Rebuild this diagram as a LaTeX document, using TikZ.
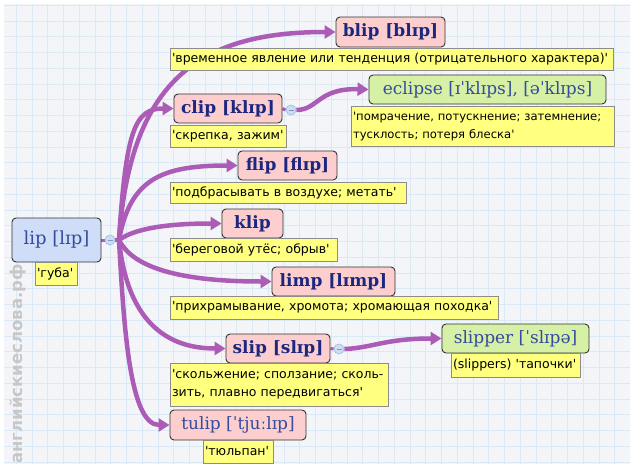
\documentclass[tikz,border=0pt]{standalone}
\usepackage{fontspec}
\setmainfont{DejaVu Sans}[Ligatures=TeXOff]
\newfontfamily\hw{DejaVu Serif}[Ligatures=TeXOff]
\usetikzlibrary{arrows.meta}
\definecolor{bgc}{RGB}{243,245,248}
\definecolor{gridc}{RGB}{218,233,243}
\definecolor{pur}{RGB}{172,92,182}
\definecolor{pinkf}{RGB}{252,206,206}
\definecolor{bluef}{RGB}{208,221,248}
\definecolor{greenf}{RGB}{214,240,166}
\definecolor{yel}{RGB}{255,255,128}
\definecolor{navy}{RGB}{28,40,128}
\definecolor{lnavy}{RGB}{52,76,156}
\definecolor{circf}{RGB}{205,222,244}
\definecolor{circd}{RGB}{160,190,228}
\pgfdeclarelayer{back}\pgfdeclarelayer{mid}\pgfsetlayers{back,mid,main}
\tikzset{
  wordbox/.style={draw=black!80, rounded corners=4pt, line width=0.9pt, inner sep=0pt, text=navy,
    font=\hw\bfseries\fontsize{17}{20}\selectfont},
  pinkbox/.style={wordbox, fill=pinkf},
  greenbox/.style={wordbox, fill=greenf, text=lnavy, font=\hw\fontsize{17}{20}\selectfont},
  plainbox/.style={wordbox, fill=pinkf, text=lnavy, font=\hw\fontsize{17}{20}\selectfont},
  rootbox/.style={wordbox, fill=bluef, text=lnavy, font=\hw\fontsize{18}{20}\selectfont},
  trans/.style={draw=black!45, fill=yel, line width=0.8pt, inner ysep=0pt, inner xsep=2pt, text=black,
    align=left, font=\fontsize{12.5}{18}\selectfont},
  arr/.style={draw=pur, line width=4.5pt, -{Triangle[length=11pt,width=13pt]}},
  stub/.style={draw=pur, line width=3pt},
  knob/.style={circle, draw=circd, fill=circf, line width=0.7pt, minimum size=10pt, inner sep=0pt,
    path picture={\draw[circd!80!black, line width=0.8pt] ([xshift=-2.5pt]path picture bounding box.center) -- ([xshift=2.5pt]path picture bounding box.center);}},
}
\begin{document}
\begin{tikzpicture}[x=1pt,y=-1pt]
\useasboundingbox (0,0) rectangle (635,469);
\begin{pgfonlayer}{back}
  \fill[white] (0,0) rectangle (635,469);
  \fill[bgc] (4,4) rectangle (630,464);
  \begin{scope}
    \clip (4,4) rectangle (630,464);
    \foreach \i in {0,...,40} {
      \draw[gridc, line width=1pt] (0.7+\i*15.75,4) -- (0.7+\i*15.75,464);
    }
    \foreach \j in {0,...,30} {
      \draw[gridc, line width=1pt] (4,5.3+\j*15.75) -- (630,5.3+\j*15.75);
    }
  \end{scope}
  \node[rotate=90, text=black!22, font=\bfseries\fontsize{16.5}{16.5}\selectfont] (wm) at (18,364) {английскиеслова.рф};
\end{pgfonlayer}

% head words
\node[rootbox, minimum width=89pt, minimum height=44pt] (lip) at (56.5,240) {lip [lɪp]};
\node[trans, text width=38pt, minimum height=23pt] (lipt) at (56,273.5) {'губа'};

\node[pinkbox, minimum width=109pt, minimum height=30pt] (blip) at (390.5,32) {blip [blɪp]};
\node[trans, text width=439pt, minimum height=22pt] (blipt) at (391.5,59) {'временное явление или тенденция (отрицательного характера)'};

\node[pinkbox, minimum width=108pt, minimum height=29pt] (clip) at (228,108.5) {clip [klɪp]};
\node[trans, text width=112pt, minimum height=22pt] (clipt) at (228,136) {'скрепка, зажим'};
\node[knob] (clipc) at (291,110) {};

\node[greenbox, minimum width=237pt, minimum height=29pt] (eclipse) at (487.5,89.5) {eclipse [ɪˈklɪps], [əˈklɪps]};
\node[trans, text width=259pt, minimum height=40pt, font=\fontsize{11.6}{18}\selectfont] (eclipset) at (482.5,126) {'помрачение, потускнение; затемнение;\\тусклость; потеря блеска'};

\node[pinkbox, minimum width=99pt, minimum height=29pt] (flip) at (287.5,165.5) {flip [flɪp]};
\node[trans, text width=232pt, minimum height=21pt] (flipt) at (288,192.5) {'подбрасывать в воздухе; метать'};

\node[pinkbox, minimum width=61pt, minimum height=29pt] (klip) at (252.5,223.5) {klip};
\node[trans, text width=163pt, minimum height=23pt] (klipt) at (253.5,250) {'береговой утёс; обрыв'};

\node[pinkbox, minimum width=123pt, minimum height=29pt] (limp) at (333.5,281.5) {limp [lɪmp]};
\node[trans, text width=324pt, minimum height=23pt] (limpt) at (334,307.5) {'прихрамывание, хромота; хромающая походка'};

\node[pinkbox, minimum width=104pt, minimum height=29pt] (slip) at (278,348.5) {slip [slɪp]};
\node[trans, text width=214pt, minimum height=43pt] (slipt) at (279,384.5) {'скольжение; сползание; сколь-\\зить, плавно передвигаться'};
\node[knob] (slipc) at (339,349) {};

\node[greenbox, minimum width=147pt, minimum height=29pt] (slipper) at (515.5,338.5) {slipper [ˈslɪpə]};
\node[trans, text width=125pt, minimum height=24pt] (slippert) at (515.5,365) {(slippers) 'тапочки'};

\node[plainbox, minimum width=136pt, minimum height=30pt] (tulip) at (238,425) {tulip [ˈtjuːlɪp]};
\node[trans, text width=66pt, minimum height=23pt] (tulipt) at (238,451.5) {'тюльпан'};

\node[knob] (lipc) at (110,240) {};
\coordinate (hub) at (119,240);

\begin{pgfonlayer}{mid}
  \draw[stub] (lip.east) -- (lipc.west);
  \draw[stub, line width=4.5pt] (lipc.east) -- (hub);
  \draw[arr] (hub) .. controls (130,80) and (200,32) .. (blip.west);
  \draw[arr] (hub) .. controls (126,130) and (135,108.5) .. (clip.west);
  \draw[arr] (hub) .. controls (130,180) and (160,165.5) .. (flip.west);
  \draw[arr] (hub) .. controls (135,228) and (170,223.5) .. (klip.west);
  \draw[arr] (hub) .. controls (130,262) and (165,281.5) .. (limp.west);
  \draw[arr] (hub) .. controls (125,300) and (150,348.5) .. (slip.west);
  \draw[arr] (hub) .. controls (124,330) and (130,425) .. (tulip.west);
  \draw[stub] (clip.east) -- (clipc.west);
  \draw[arr] (clipc.east) .. controls (318,110) and (318,88) .. (eclipse.west);
  \draw[stub] (slip.east) -- (slipc.west);
  \draw[arr] (slipc.east) .. controls (372,348) and (385,338.5) .. (slipper.west);
\end{pgfonlayer}
\end{tikzpicture}
\end{document}
